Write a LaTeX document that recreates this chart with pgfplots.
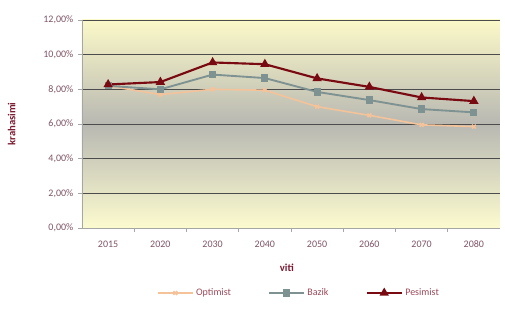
\documentclass[border=0pt]{standalone}
\usepackage{pgfplots}
\pgfplotsset{compat=1.18}
\usepackage{fontspec}
\setmainfont{Carlito}
\definecolor{pes}{HTML}{7A0A12}
\definecolor{baz}{HTML}{7E9292}
\definecolor{opt}{HTML}{F4C39A}
\definecolor{ticktxt}{HTML}{7E5466}
\definecolor{legtxt}{HTML}{9A4A5A}
\definecolor{titletxt}{HTML}{7A1A30}
\definecolor{bgtop}{HTML}{FBF9C8}
\definecolor{bgmid}{HTML}{B8B8B2}
\definecolor{bgbot}{HTML}{FCFBCF}
\begin{document}
\begin{tikzpicture}
\useasboundingbox (-61.5pt,-60.75pt) rectangle ++(378.75pt,231.75pt);
\begin{axis}[
  at={(0pt,0pt)}, anchor=south west,
  scale only axis, width=313.5pt, height=156pt,
  xmin=-0.5, xmax=7.5, ymin=0, ymax=12,
  xtick={0,...,7},
  xticklabels={2015,2020,2030,2040,2050,2060,2070,2080},
  major x tick style={draw=none},
  minor xtick={0.5,1.5,...,6.5},
  minor x tick style={draw=gray!70, line width=0.6pt},
  minor tick length=3pt,
  tick align=outside,
  ytick={0,2,...,12},
  yticklabels={{0,00\%},{2,00\%},{4,00\%},{6,00\%},{8,00\%},{10,00\%},{12,00\%}},
  yticklabel style={font=\fontsize{7.5}{9}\selectfont, text=ticktxt},
  xticklabel style={font=\fontsize{7.5}{9}\selectfont, text=ticktxt, yshift=-3pt},
  major y tick style={draw=gray!70, line width=0.6pt},
  major tick length=3pt,
  ymajorgrids,
  grid style={draw=black!70, line width=0.6pt},
  axis x line*=bottom, axis y line*=left,
  axis line style={draw=gray!70, line width=0.6pt, -},
  axis background/.style={shade, top color=bgtop, bottom color=bgbot, middle color=bgmid},
  xlabel={viti}, ylabel={krahasimi},
  xlabel style={font=\fontsize{8}{9}\selectfont\bfseries, text=titletxt, at={(axis description cs:0.49,-0.19)}, anchor=center},
  ylabel style={font=\fontsize{8}{9}\selectfont\bfseries, text=titletxt, at={(axis description cs:-0.168,0.5)}, anchor=center},
  legend columns=3,
  legend style={draw=none, fill=none, at={(rel axis cs:0.52,-0.3125)}, anchor=center,
    font=\fontsize{7.5}{9}\selectfont, text=legtxt,
    /tikz/every even column/.append style={column sep=26pt}},
  legend image code/.code={\draw[#1] (0pt,0pt) -- (26pt,0pt); \draw[#1, only marks] plot coordinates {(13pt,0pt)};},
]
\addplot[color=opt, line width=1.2pt, mark=x, mark size=2pt] coordinates {
(0,8.2) (1,7.7) (2,8.0) (3,7.95) (4,7.0) (5,6.5) (6,5.95) (7,5.85)};
\addlegendentry{Optimist}
\addplot[color=baz, line width=1.4pt, mark=square*, mark size=2pt] coordinates {
(0,8.2) (1,8.0) (2,8.85) (3,8.65) (4,7.85) (5,7.38) (6,6.86) (7,6.67)};
\addlegendentry{Bazik}
\addplot[color=pes, line width=1.6pt, mark=triangle*, mark size=2.5pt] coordinates {
(0,8.28) (1,8.42) (2,9.55) (3,9.45) (4,8.63) (5,8.14) (6,7.53) (7,7.32)};
\addlegendentry{Pesimist}
\end{axis}
\end{tikzpicture}
\end{document}
